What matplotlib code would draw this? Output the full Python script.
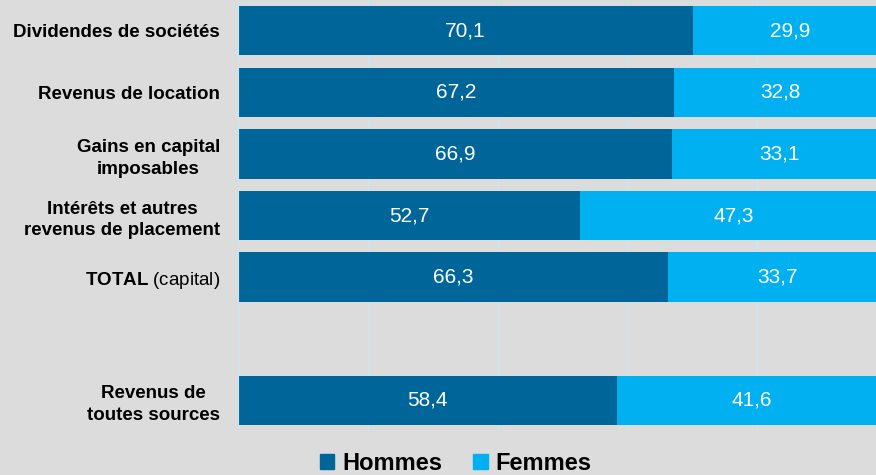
import matplotlib.pyplot as plt
from matplotlib.patches import Patch

# ---- data ----
categories = [
    "Dividendes de sociétés",
    "Revenus de location",
    "Gains en capital\nimposables",
    "Intérêts et autres\nrevenus de placement",
    r"$\mathbf{TOTAL}$ (capital)",
    "",
    "Revenus de\ntoutes sources",
]
hommes = [70.1, 67.2, 66.9, 52.7, 66.3, None, 58.4]
femmes = [29.9, 32.8, 33.1, 47.3, 33.7, None, 41.6]
series_names = ["Hommes", "Femmes"]

# ---- style ----
BG = "#dcdcdc"
DARK = "#006699"
LIGHT = "#00b0f0"
GRID = "#c9e6f3"
plt.rcParams["font.family"] = ["Liberation Sans", "DejaVu Sans"]
plt.rcParams["mathtext.fontset"] = "custom"
plt.rcParams["mathtext.rm"] = "Liberation Sans"
plt.rcParams["mathtext.bf"] = "Liberation Sans:bold"

fig = plt.figure(figsize=(8.76, 4.75), dpi=100, facecolor=BG)
# axis runs 0..100 but right end is cut off by the figure edge
ax = fig.add_axes([238 / 876, 1 - 431 / 475, 649 / 876, 431 / 475])
ax.set_facecolor(BG)

ypos = list(range(len(categories)))
for y, h, f in zip(ypos, hommes, femmes):
    if h is None:
        continue
    ax.barh(y, h, height=0.8, color=DARK, zorder=2)
    ax.barh(y, f, left=h, height=0.8, color=LIGHT, zorder=2)
    ax.text(h / 2, y, f"{h:.1f}".replace(".", ","), color="white",
            ha="center", va="center", fontsize=15, zorder=3)
    ax.text(h + f / 2, y, f"{f:.1f}".replace(".", ","), color="white",
            ha="center", va="center", fontsize=15, zorder=3)

ax.set_xlim(0, 100)
ax.set_ylim(6.5, -0.5)
ax.set_xticks([20, 40, 60, 80])
ax.grid(axis="x", color=GRID, linewidth=0.8, zorder=0)
ax.tick_params(axis="x", length=0, labelbottom=False)
ax.tick_params(axis="y", length=0, pad=13)
ax.set_yticks(ypos)
ax.set_yticklabels(categories, fontsize=13.5, fontweight="bold")
for i, lab in enumerate(ax.get_yticklabels()):
    lab.set_multialignment("center")
    lab.set_linespacing(1.37)
    if i == 4:
        lab.set_fontweight("normal")

for side in ["top", "right", "bottom"]:
    ax.spines[side].set_visible(False)
ax.spines["left"].set_color(GRID)

handles = [Patch(color=DARK), Patch(color=LIGHT)]
fig.legend(handles, series_names, loc="center", ncol=2,
           bbox_to_anchor=(456 / 876, 1 - 463 / 475), frameon=False,
           prop={"size": 17, "weight": "bold"}, handlelength=0.6,
           handleheight=0.6, handletextpad=0.35, columnspacing=1.3)

fig.savefig("out.png", dpi=100, facecolor=BG)
